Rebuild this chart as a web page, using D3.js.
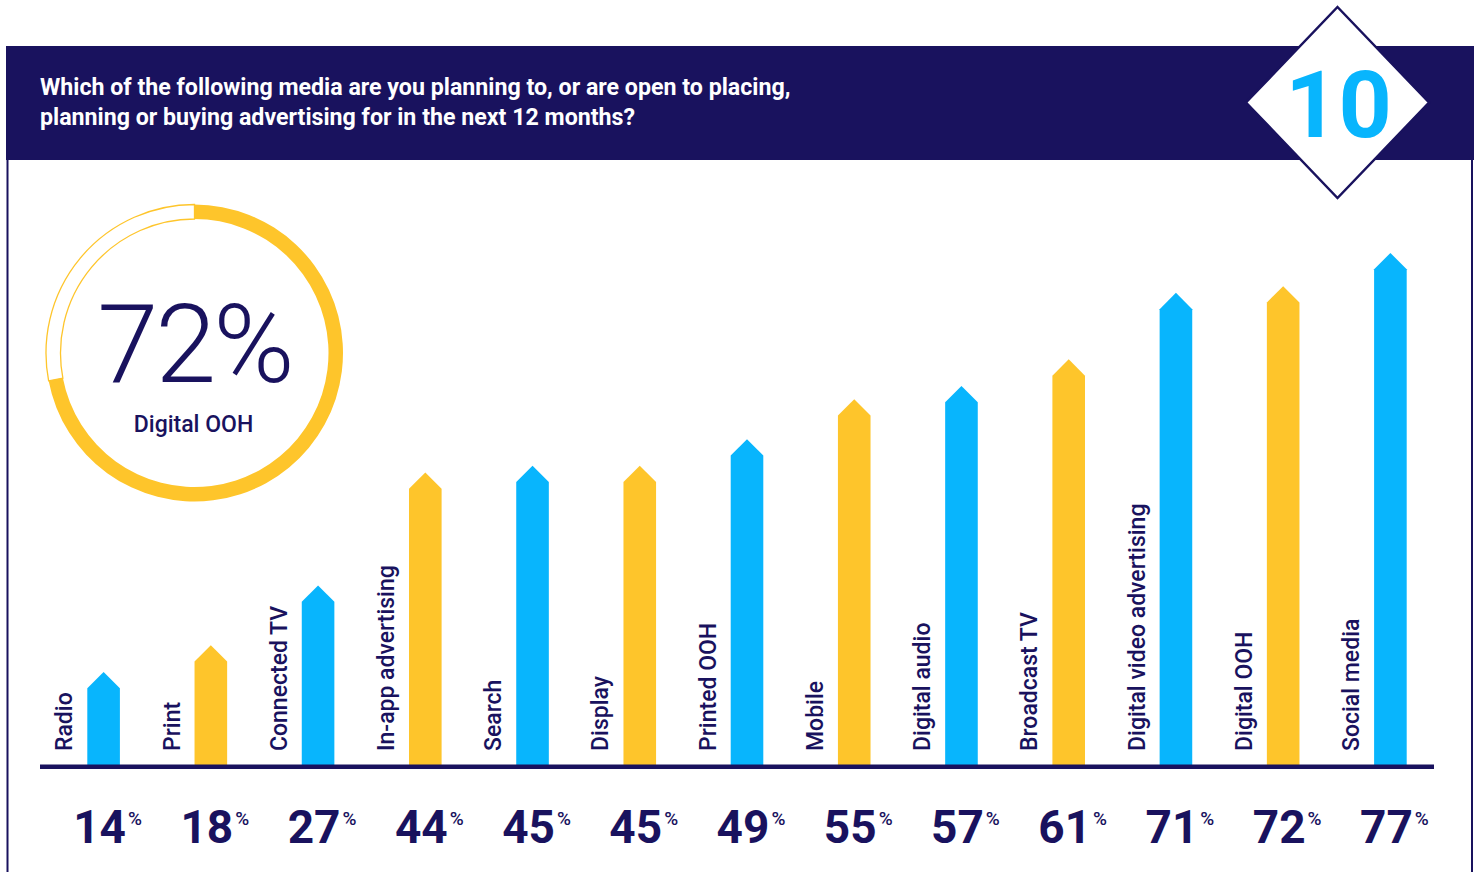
<!DOCTYPE html>
<html>
<head>
<meta charset="utf-8">
<script src="https://cdn.jsdelivr.net/npm/d3@7/dist/d3.min.js"></script>
<style>
  html, body { margin: 0; padding: 0; background: #fff; }
  svg { display: block; font-family: Roboto, "Noto Sans", sans-serif; }
</style>
</head>
<body>
<svg id="chart" width="1483" height="872"></svg>
<script>
const titleLines = [
  "Which of the following media are you planning to, or are open to placing,",
  "planning or buying advertising for in the next 12 months?"
];
const badgeNumber = "10";
const highlightValue = 72;
const highlightLabel = "Digital OOH";
const categories = ["Radio", "Print", "Connected TV", "In-app advertising", "Search", "Display",
  "Printed OOH", "Mobile", "Digital audio", "Broadcast TV", "Digital video advertising",
  "Digital OOH", "Social media"];
const values = [14, 18, 27, 44, 45, 45, 49, 55, 57, 61, 71, 72, 77];
const barColors = ["cyan", "yellow", "cyan", "yellow", "cyan", "yellow", "cyan",
  "yellow", "cyan", "yellow", "cyan", "yellow", "cyan"];

const NAVY = "#19125e";
const CYAN = "#08b5fd";
const YELLOW = "#fec52b";
const palette = { cyan: CYAN, yellow: YELLOW };

const svg = d3.select("#chart");

// Frame border lines
svg.append("line").attr("x1", 7.5).attr("x2", 7.5).attr("y1", 150).attr("y2", 872)
  .attr("stroke", NAVY).attr("stroke-width", 2);
svg.append("line").attr("x1", 1472).attr("x2", 1472).attr("y1", 150).attr("y2", 872)
  .attr("stroke", NAVY).attr("stroke-width", 2);

// Header band
svg.append("rect").attr("x", 6).attr("y", 46).attr("width", 1468).attr("height", 114)
  .attr("fill", NAVY);
svg.append("text").attr("x", 40).attr("y", 95)
  .attr("fill", "#fff").attr("font-size", 23.2).attr("font-weight", 700)
  .selectAll("tspan").data(titleLines).join("tspan")
  .attr("x", 40).attr("dy", (d, i) => i === 0 ? 0 : 30)
  .text(d => d);

// Badge diamond
const bx = 1337.5, by = 102.5, bw = 91.5, bh = 95.5;
svg.append("polygon")
  .attr("points", [[bx, by - bh], [bx + bw, by], [bx, by + bh], [bx - bw, by]].map(p => p.join(",")).join(" "))
  .attr("fill", "#fff").attr("stroke", NAVY).attr("stroke-width", 2.5);
svg.append("text").attr("x", bx + 1).attr("y", 137).attr("text-anchor", "middle")
  .attr("fill", CYAN).attr("font-size", 93).attr("font-weight", 700)
  .text(badgeNumber);

// Donut highlight
const cx = 194.5, cy = 353;
const rOuter = 148.5, rInner = 134;
const angle = d3.scaleLinear().domain([0, 100]).range([0, 2 * Math.PI]);
const arc = d3.arc().innerRadius(rInner).outerRadius(rOuter);
const dg = svg.append("g").attr("transform", `translate(${cx},${cy})`);
dg.append("path")
  .attr("d", arc({ startAngle: angle(highlightValue), endAngle: angle(100) }))
  .attr("fill", "none").attr("stroke", YELLOW).attr("stroke-width", 1.3);
dg.append("path")
  .attr("d", arc({ startAngle: 0, endAngle: angle(highlightValue) }))
  .attr("fill", YELLOW);
dg.append("text").attr("x", 0).attr("y", 29).attr("text-anchor", "middle")
  .attr("fill", NAVY).attr("font-size", 110).attr("font-weight", 300)
  .attr("letter-spacing", -3)
  .text(highlightValue + "%");
dg.append("text").attr("x", -1).attr("y", 79).attr("text-anchor", "middle")
  .attr("fill", NAVY).attr("font-size", 23).attr("font-weight", 500)
  .text(highlightLabel);

// Bar scales
const baseY = 765;
const x = d3.scalePoint().domain(categories).range([103.6, 1390.4]);
const y = d3.scaleLinear().domain([0, 100]).range([baseY, 100]);
const halfW = 16.3;

const data = categories.map((c, i) => ({ cat: c, value: values[i], color: palette[barColors[i]] }));

const bars = svg.append("g");
bars.selectAll("path").data(data).join("path")
  .attr("d", d => {
    const c = x(d.cat), tip = y(d.value), sh = tip + halfW;
    return `M${c - halfW},${baseY} L${c - halfW},${sh} L${c},${tip} L${c + halfW},${sh} L${c + halfW},${baseY} Z`;
  })
  .attr("fill", d => d.color);

// Category labels (rotated)
svg.append("g").selectAll("text").data(data).join("text")
  .attr("transform", d => `translate(${x(d.cat) - halfW - 15},751) rotate(-90)`)
  .attr("fill", NAVY).attr("font-size", 23).attr("font-weight", 500)
  .text(d => d.cat);

// Axis line
svg.append("line").attr("x1", 40).attr("x2", 1434).attr("y1", 766.75).attr("y2", 766.75)
  .attr("stroke", NAVY).attr("stroke-width", 4.5);

// Value labels
const vl = svg.append("g").selectAll("text").data(data).join("text")
  .attr("x", d => x(d.cat) + 4).attr("y", 843).attr("text-anchor", "middle")
  .attr("fill", NAVY).attr("font-weight", 700);
vl.append("tspan").attr("font-size", 46).text(d => d.value);
vl.append("tspan").attr("font-size", 19).attr("font-weight", 500).attr("dx", 2).attr("dy", -18).text("%");
</script>
</body>
</html>
